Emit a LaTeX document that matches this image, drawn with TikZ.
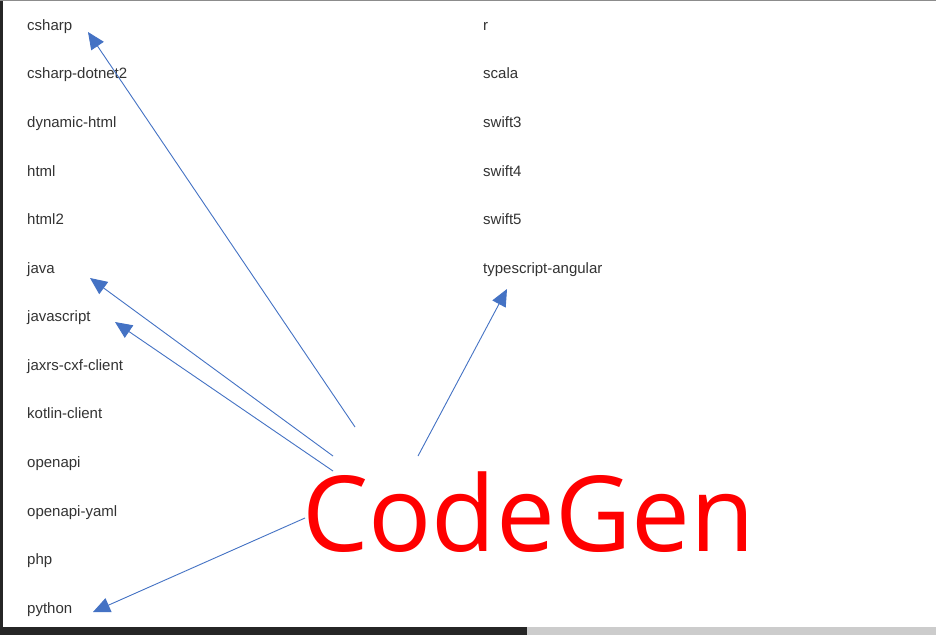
\documentclass[tikz,border=0pt]{standalone}
\usepackage{fontspec}
\setmainfont{Liberation Sans}
\newfontfamily\bigfont{Open Sans}
\usetikzlibrary{arrows.meta}

\definecolor{arrowblue}{HTML}{4472C4}
\definecolor{labelgray}{HTML}{333333}

\tikzset{
  lang/.style={anchor=base west, inner sep=0pt, text=labelgray, font=\fontsize{15}{15}\selectfont},
  ptr/.style={arrowblue, line width=0.9pt, -{Triangle[length=17pt,width=15pt]}},
}

\begin{document}
\begin{tikzpicture}[x=1pt,y=-1pt]

\useasboundingbox (0,0) rectangle (936,635);

% screen behind the box
\fill[white] (0,0) rectangle (936,635);
\fill[black!85] (0,0) rectangle (3,635);
\fill[black!85] (0,627) rectangle (527,635);
\fill[black!20] (527,627) rectangle (936,635);
\draw[black!45, line width=1.2pt] (0,0.6) -- (936,0.6);

% left column
\node[lang] (csharp) at (27,30) {csharp};
\node[lang] (csharpdn) at (27,78) {csharp-dotnet2};
\node[lang] (dynhtml) at (27,127) {dynamic-html};
\node[lang] (html) at (27,176) {html};
\node[lang] (htmltwo) at (27,224) {html2};
\node[lang] (java) at (27,273) {java};
\node[lang] (javascript) at (27,321) {javascript};
\node[lang] (jaxrs) at (27,370) {jaxrs-cxf-client};
\node[lang] (kotlin) at (27,418) {kotlin-client};
\node[lang] (openapi) at (27,467) {openapi};
\node[lang] (openapiyaml) at (27,516) {openapi-yaml};
\node[lang] (php) at (27,564) {php};
\node[lang] (python) at (27,613) {python};

% right column
\node[lang] (r) at (483,30) {r};
\node[lang] (scala) at (483,78) {scala};
\node[lang] (swiftthree) at (483,127) {swift3};
\node[lang] (swiftfour) at (483,176) {swift4};
\node[lang] (swiftfive) at (483,224) {swift5};
\node[lang] (tsangular) at (483,273) {typescript-angular};

% the generator
\node[anchor=west, inner sep=0pt, text=red, font=\bigfont\fontsize{105}{105}\selectfont] (codegen) at (302,512) {CodeGen};

\coordinate (fromcs) at (355,427);
\coordinate (fromjava) at (333,456);
\coordinate (fromjs) at (333,471);
\coordinate (fromts) at (418,456);
\coordinate (frompy) at (305,518);

\draw[ptr] (fromcs) -- ([xshift=61pt,yshift=-2pt]csharp.base west);
\draw[ptr] (fromjava) -- ([xshift=63pt,yshift=-5pt]java.base west);
\draw[ptr] (fromjs) -- ([xshift=88pt,yshift=-1pt]javascript.base west);
\draw[ptr] (fromts) -- ([xshift=24pt,yshift=-16pt]tsangular.base west);
\draw[ptr] (frompy) -- ([xshift=66pt,yshift=1pt]python.base west);

\end{tikzpicture}
\end{document}
